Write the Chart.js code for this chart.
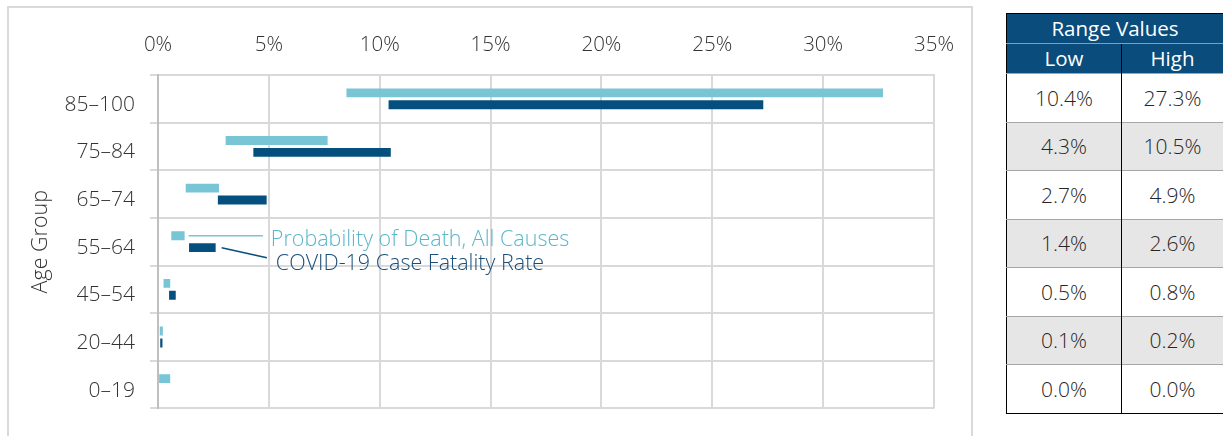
<!DOCTYPE html>
<html>
<head>
<meta charset="utf-8">
<script src="https://cdn.jsdelivr.net/npm/chart.js"></script>
<style>
  html, body { margin:0; padding:0; background:#fff; width:1223px; height:436px; overflow:hidden; font-family:'Open Sans', sans-serif; }
  #frame { position:absolute; left:7px; top:6px; width:966px; height:440px; border:2px solid #d9d9d9; box-sizing:border-box; }
  #wrap { position:absolute; left:0; top:0; width:980px; height:436px; }
  #rt { position:absolute; left:1006px; top:13px; width:217px; border-collapse:collapse; border:1.5px solid #000; table-layout:fixed; font-size:21px; color:#262626; }
  #rt th { background:#0a4c7c; color:#fff; font-weight:400; height:29px; padding:0; line-height:29px; font-size:20.5px; }
  #rt tr.h1 th { border-bottom:1px solid #7f9fba; }
  #rt tr.h2 th + th { border-left:1.5px solid #000; }
  #rt td { height:47.5px; padding:0; text-align:center; border-top:1.5px solid #a6a6a6; font-weight:300; }
  #rt td + td { border-left:1.5px solid #000; }
  #rt tr.alt td { background:#e7e6e6; }
</style>
</head>
<body>
<div id="frame"></div>
<div id="wrap"><canvas id="c"></canvas></div>
<table id="rt">
  <colgroup><col style="width:115px"><col style="width:102px"></colgroup>
  <tr class="h1"><th colspan="2">Range Values</th></tr>
  <tr class="h2"><th>Low</th><th>High</th></tr>
</table>
<script>
const categories = ['85–100', '75–84', '65–74', '55–64', '45–54', '20–44', '0–19'];
const xTicks = [0, 5, 10, 15, 20, 25, 30, 35];
const deathLow  = [8.5, 3.05, 1.25, 0.6, 0.25, 0.08, 0.05];
const deathHigh = [32.7, 7.65, 2.75, 1.2, 0.55, 0.22, 0.55];
const covidLow  = [10.4, 4.3, 2.7, 1.4, 0.5, 0.1, 0.0];
const covidHigh = [27.3, 10.5, 4.9, 2.6, 0.8, 0.2, 0.0];
const seriesNames = ['Probability of Death, All Causes', 'COVID-19 Case Fatality Rate'];

const lightBlue = '#78c5d6';
const darkBlue = '#044f7d';
const lightText = '#5bb6ca';
const darkText = '#1b4f7a';
const axisText = '#333333';
const FONT = "'Open Sans', sans-serif";

// table from data
const tbl = document.getElementById('rt');
categories.forEach((c, i) => {
  const tr = document.createElement('tr');
  if (i % 2 === 1) tr.className = 'alt';
  [covidLow[i], covidHigh[i]].forEach(v => {
    const td = document.createElement('td');
    td.textContent = v.toFixed(1) + '%';
    tr.appendChild(td);
  });
  tbl.appendChild(tr);
});

const annot = {
  id: 'annot',
  afterDatasetsDraw(chart) {
    const { ctx, scales: { x } } = chart;
    const idx = categories.indexOf('55–64');
    const b0 = chart.getDatasetMeta(0).data[idx];
    const b1 = chart.getDatasetMeta(1).data[idx];
    const textX = x.getPixelForValue(5) + 2;
    ctx.save();
    ctx.lineWidth = 1.5;
    ctx.strokeStyle = lightBlue;
    ctx.beginPath();
    ctx.moveTo(b0.x + 4, b0.y);
    ctx.lineTo(textX - 8, b0.y);
    ctx.stroke();
    ctx.strokeStyle = darkBlue;
    ctx.beginPath();
    ctx.moveTo(b1.x + 6, b1.y);
    ctx.lineTo(textX - 4, b1.y + 10);
    ctx.stroke();
    ctx.font = "300 21.5px " + FONT;
    ctx.textBaseline = 'alphabetic';
    ctx.textAlign = 'left';
    ctx.fillStyle = lightText;
    ctx.fillText(seriesNames[0], textX, b0.y + 10);
    ctx.fillStyle = darkText;
    ctx.fillText(seriesNames[1], textX + 5, b1.y + 22.5);
    ctx.restore();
  }
};

new Chart(document.getElementById('c'), {
  type: 'bar',
  data: {
    labels: categories,
    datasets: [
      { label: seriesNames[0], data: categories.map((c, i) => [deathLow[i], deathHigh[i]]), backgroundColor: lightBlue, categoryPercentage: 0.5, barPercentage: 0.75, borderSkipped: false },
      { label: seriesNames[1], data: categories.map((c, i) => [covidLow[i], covidHigh[i]]), backgroundColor: darkBlue, categoryPercentage: 0.5, barPercentage: 0.75, borderSkipped: false }
    ]
  },
  options: {
    indexAxis: 'y',
    responsive: true,
    maintainAspectRatio: false,
    animation: false,
    layout: { padding: { left: 0, top: 0, right: 46, bottom: 25 } },
    plugins: { legend: { display: false }, tooltip: { enabled: false } },
    scales: {
      x: {
        position: 'top',
        min: 0, max: 35,
        afterBuildTicks: s => { s.ticks = xTicks.map(v => ({ value: v })); },
        afterFit: s => { s.height = 75; },
        ticks: { callback: v => v + '%', padding: 18, color: axisText, font: { family: FONT, size: 20.5, weight: '300' }, maxRotation: 0 },
        grid: { color: '#d9d9d9', lineWidth: 2, drawTicks: false },
        border: { display: true, color: '#d9d9d9', width: 2 }
      },
      y: {
        afterFit: s => { s.width = 158; },
        ticks: { padding: 15, labelOffset: 6, color: axisText, font: { family: FONT, size: 21, weight: '300' } },
        grid: { color: '#d9d9d9', lineWidth: 2, offset: true, tickLength: 8 },
        border: { display: true, color: '#bfbfbf', width: 2 },
        title: { display: true, text: 'Age Group', color: axisText, font: { family: FONT, size: 21.5, weight: '300' }, padding: { top: 28, bottom: 0 } }
      }
    }
  },
  plugins: [annot]
});
</script>
</body>
</html>
